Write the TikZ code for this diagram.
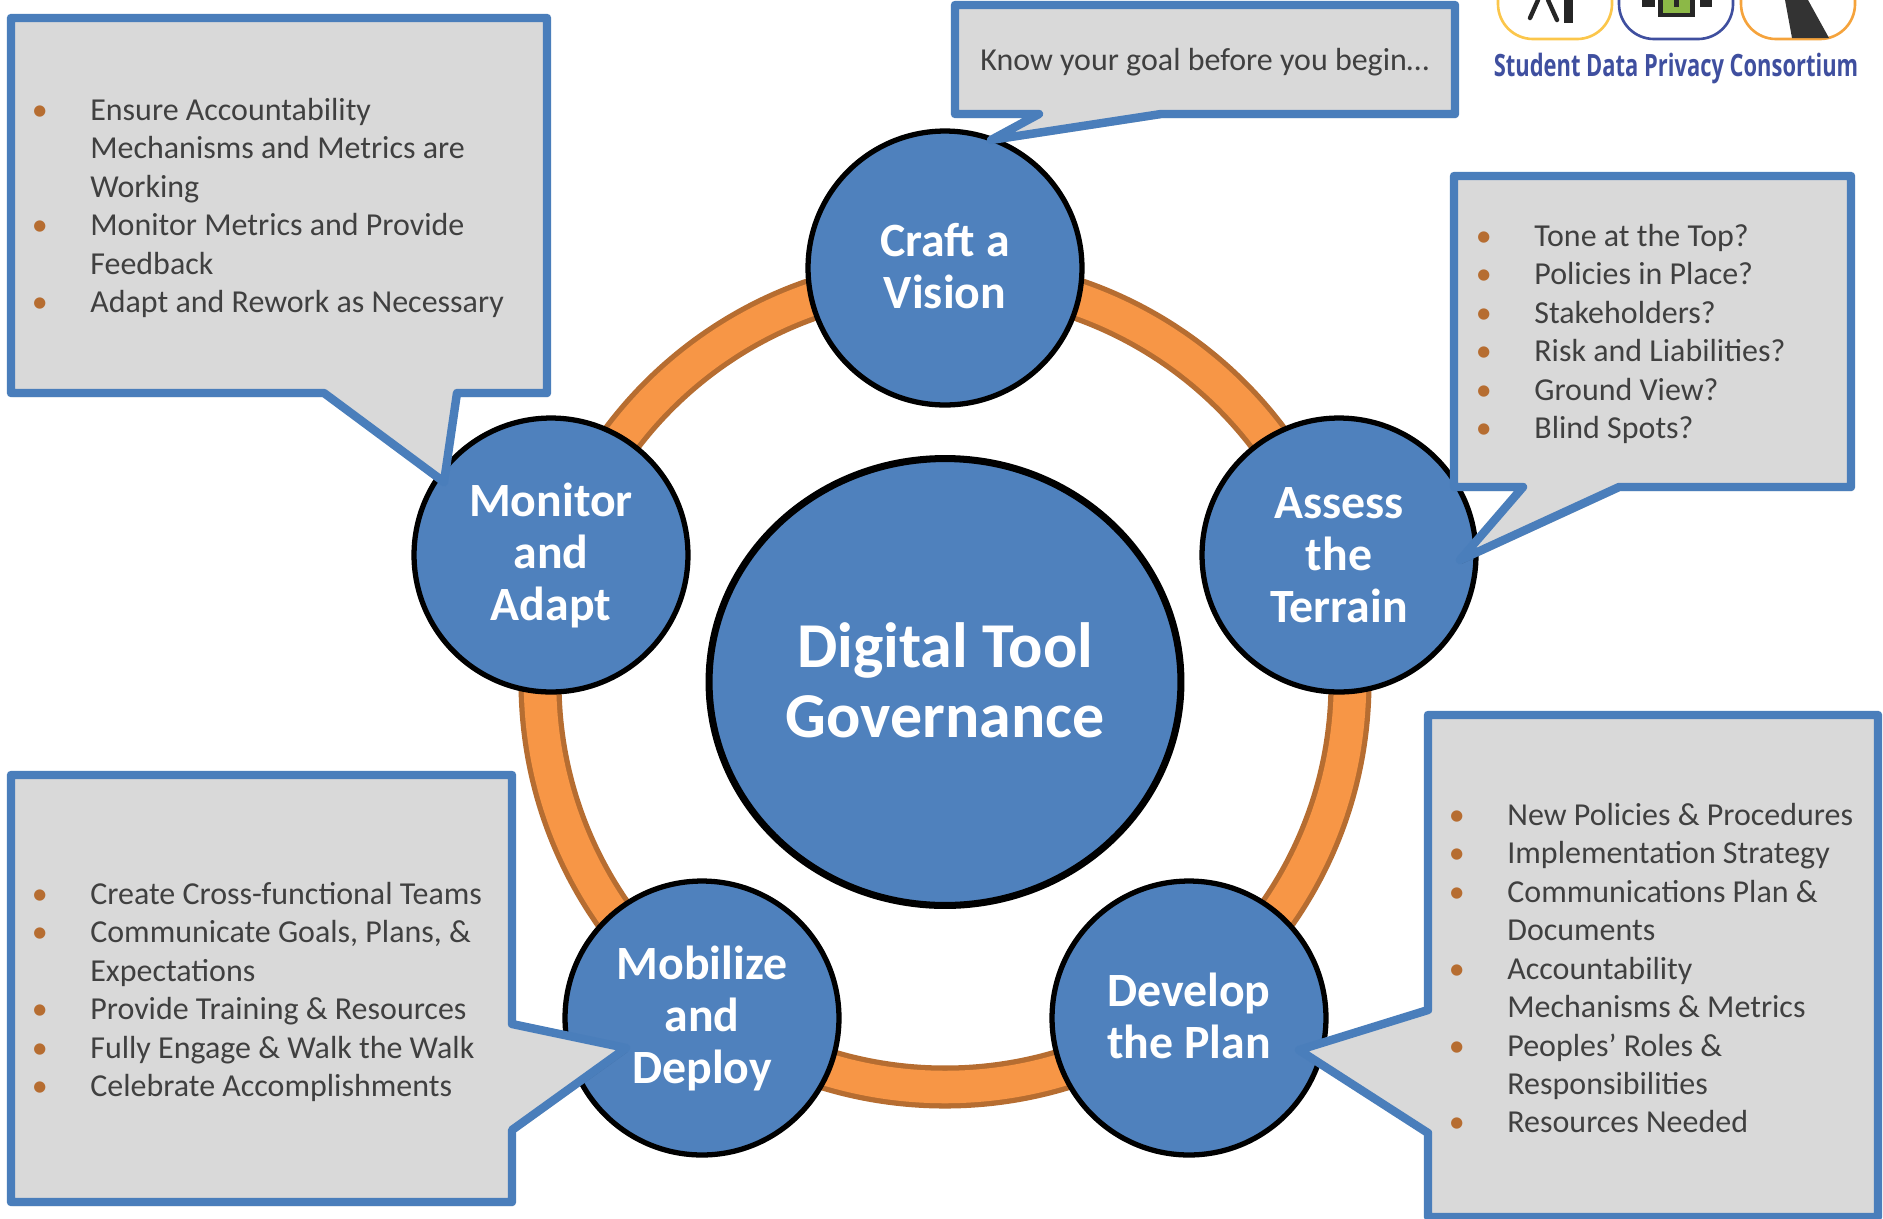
\documentclass[tikz,border=0pt]{standalone}
\usepackage{fontspec}
\setmainfont{Carlito}
\newfontfamily\logofont{Open Sans}
\usetikzlibrary{shapes.geometric,shadows}
\definecolor{stepblue}{HTML}{4F81BD}
\definecolor{boxline}{HTML}{4A7EBB}
\definecolor{ringfill}{HTML}{F79646}
\definecolor{ringedge}{HTML}{B66D31}
\definecolor{boxgrey}{HTML}{D9D9D9}
\definecolor{boxtext}{HTML}{404040}
\definecolor{logoblue}{HTML}{3F4F9F}
\definecolor{logoyel}{HTML}{FBC64B}
\definecolor{logoora}{HTML}{F5A33C}
\definecolor{logogreen}{HTML}{8CB847}
\newcommand{\bul}{\llap{\textcolor{ringedge}{\textbullet}\hspace{0.85cm}}}
\newcommand{\lift}{\rule[-0.08cm]{0pt}{0pt}}
\begin{document}
\begin{tikzpicture}[x=0.02cm,y=-0.02cm]
        \tikzset{
            stage/.style={draw=black,circle,line width=3pt,fill=stepblue,minimum size=5.48cm,inner sep=0pt,
                text=white,align=center,font=\fontsize{27.2}{29.6}\selectfont\bfseries},
            hub/.style={draw=black,ellipse,line width=4pt,fill=stepblue,minimum width=9.44cm,minimum height=8.94cm,inner sep=0pt,
                text=white,align=center,font=\fontsize{36.4}{39.6}\selectfont\bfseries},
            callout/.style={draw=boxline,line width=4.8pt,fill=boxgrey,line join=round,
                drop shadow={shadow xshift=0.03cm,shadow yshift=-0.08cm,opacity=.18,fill=black}},
            notes/.style={anchor=north west,inner sep=0pt,align=left,text=boxtext,font=\fontsize{18.2}{21.86}\selectfont}
        }
        \useasboundingbox (0,0) rectangle (1883,1218);
        \clip (0,0) rectangle (1883,1218);
        % ring
        \draw[ringedge,line width=24.5pt] (945,682) circle[radius=405];
        \draw[ringfill,line width=18.5pt] (945,682) circle[radius=405];
        % stages
        \node[hub] (gov) at (945,682) {Digital Tool\\Governance\lift};
        \node[stage] (craft) at (945,268) {Craft a\\Vision\lift};
        \node[stage] (assess) at (1339,555) {Assess\\the\\Terrain};
        \node[stage] (develop) at (1189,1018) {Develop\\the Plan\lift};
        \node[stage] (mobilize) at (702,1018) {Mobilize\\and\\Deploy};
        \node[stage] (monitor) at (551,555) {Monitor\\and\\Adapt};
        % callouts
        \draw[callout] (955,5) -- (1455,5) -- (1455,114) -- (1161,114) -- (991,140) -- (1039,114) -- (955,114) -- cycle;
        \draw[callout] (1454,176) -- (1851,176) -- (1851,487) -- (1619,487) -- (1460,560) -- (1523,487) -- (1454,487) -- cycle;
        \draw[callout] (1428,715) -- (1878,715) -- (1878,1217) -- (1428,1217) -- (1428,1133) -- (1299,1050) -- (1428,1010) -- cycle;
        \draw[callout] (11,775) -- (512,775) -- (512,1024) -- (626,1048) -- (512,1130) -- (512,1202) -- (11,1202) -- cycle;
        \draw[callout] (11,18) -- (547,18) -- (547,393) -- (457,393) -- (444,482) -- (324,393) -- (11,393) -- cycle;
        \node[notes] (craftnotes) at (980,48) {Know your goal before you begin\dots};
        \node[notes] (assessnotes) at (1534,224) {\bul Tone at the Top?\\\bul Policies in Place?\\\bul Stakeholders?\\\bul Risk and Liabilities?\\\bul Ground View?\\\bul Blind Spots?};
        \node[notes] (developnotes) at (1507,803) {\bul New Policies \& Procedures\\\bul Implementation Strategy\\\bul Communications Plan \&\\Documents\\\bul Accountability\\Mechanisms \& Metrics\\\bul Peoples’ Roles \&\\Responsibilities\\\bul Resources Needed};
        \node[notes] (mobilizenotes) at (90,882) {\bul Create Cross-functional Teams\\\bul Communicate Goals, Plans, \&\\Expectations\\\bul Provide Training \& Resources\\\bul Fully Engage \& Walk the Walk\\\bul Celebrate Accomplishments};
        \node[notes] (monitornotes) at (90,98) {\bul Ensure Accountability\\Mechanisms and Metrics are\\Working\\\bul Monitor Metrics and Provide\\Feedback\\\bul Adapt and Rework as Necessary};
        % logo
        \draw[logoyel,line width=1.5pt,rounded corners=.7cm] (1498,-40) -- (1498,39) -- (1612,39) -- (1612,-40);
        \draw[logoblue,line width=1.5pt,rounded corners=.7cm] (1619,-40) -- (1619,39) -- (1733,39) -- (1733,-40);
        \draw[logoora,line width=1.5pt,rounded corners=.7cm] (1741,-40) -- (1741,39) -- (1855,39) -- (1855,-40);
        \draw[black!85,line width=2.5pt,line cap=round] (1530,18) -- (1538,0);
        \draw[black!85,line width=2.5pt,line cap=round] (1557,20) -- (1548,0);
        \fill[black!85] (1564,0) rectangle (1573,23);
        \fill[black!85] (1642,0) rectangle (1655,7);
        \fill[black!85] (1700,0) rectangle (1712,7);
        \fill[black!85] (1658,0) rectangle (1695,17);
        \fill[logogreen] (1663,0) rectangle (1690,13);
        \fill[black!85] (1674,0) rectangle (1679,7);
        \fill[black!80] (1785,0) -- (1808,0) -- (1829,38) -- (1792,38) -- cycle;
        \node[inner sep=0pt,text=logoblue,font=\logofont\fontsize{17.5}{21}\selectfont\bfseries] (logotext) at (1676,69) {\scalebox{0.713}[1]{Student Data Privacy Consortium}};
\end{tikzpicture}
\end{document}
